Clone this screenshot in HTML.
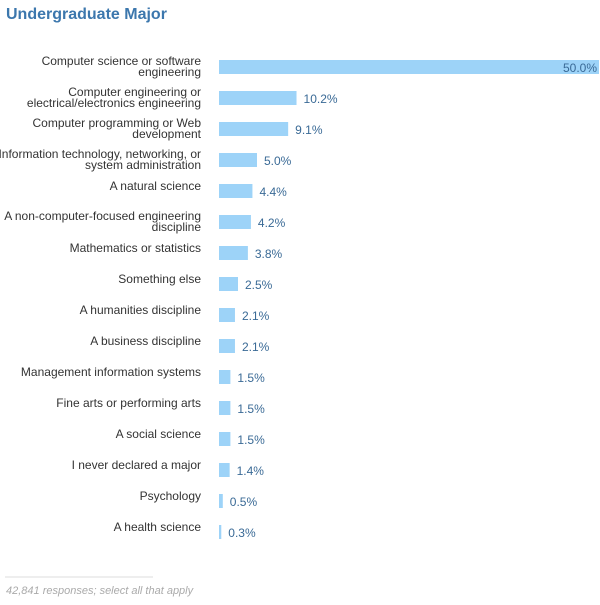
<!DOCTYPE html>
<html><head><meta charset="utf-8"><style>
body{margin:0;background:#fff;width:600px;height:600px;overflow:hidden;font-family:"Liberation Sans",Arial,sans-serif}
</style></head><body>
<svg width="600" height="600">
<text x="6" y="19" font-size="16" font-weight="bold" fill="#3c77ad">Undergraduate Major</text>
<g id="bars"></g>
<line x1="5" y1="577" x2="153" y2="577" stroke="#ddd"/>
<text x="6" y="594" font-size="11" font-style="italic" fill="#aaa">42,841 responses; select all that apply</text>
</svg>
<script>
const categories=[["Computer science or software","engineering"],["Computer engineering or","electrical/electronics engineering"],["Computer programming or Web","development"],["Information technology, networking, or","system administration"],["A natural science"],["A non-computer-focused engineering","discipline"],["Mathematics or statistics"],["Something else"],["A humanities discipline"],["A business discipline"],["Management information systems"],["Fine arts or performing arts"],["A social science"],["I never declared a major"],["Psychology"],["A health science"]];
const values=[50.0,10.2,9.1,5.0,4.4,4.2,3.8,2.5,2.1,2.1,1.5,1.5,1.5,1.4,0.5,0.3];
const x0=219,xMax=599,vMax=50,y0=67,step=31,bh=14;
const xs=v=>x0+(xMax-x0)*v/vMax;
const ys=i=>y0+i*step;
const g=document.getElementById('bars');
const NS='http://www.w3.org/2000/svg';
values.forEach((v,i)=>{
 const cy=ys(i);
 const r=document.createElementNS(NS,'rect');
 r.setAttribute('x',x0);r.setAttribute('y',cy-bh/2);
 r.setAttribute('width',Math.max(2,xs(v)-x0));r.setAttribute('height',bh);
 r.setAttribute('fill','#9dd3f8');
 
 
 g.appendChild(r);
 const t=document.createElementNS(NS,'text');
 const inside=xs(v)>540;
 t.setAttribute('x',inside?xs(v)-2:xs(v)+7);
 t.setAttribute('y',cy+5);
 t.setAttribute('font-size','12');
 t.setAttribute('fill','#3a6a96');
 t.setAttribute('text-anchor',inside?'end':'start');
 t.textContent=v.toFixed(1)+'%';
 
 
 g.appendChild(t);
 const lines=categories[i];
 const l=document.createElementNS(NS,'text');
 l.setAttribute('font-size','12');
 l.setAttribute('fill','#333');
 l.setAttribute('text-anchor','end');
 
 
 lines.forEach((s,k)=>{
  const sp=document.createElementNS(NS,'tspan');
  sp.setAttribute('x',201);
  sp.setAttribute('y',lines.length===1?cy-1:cy-2+k*11);
  sp.textContent=s;
  l.appendChild(sp);
 });
 g.appendChild(l);
});
</script>
</body></html>
